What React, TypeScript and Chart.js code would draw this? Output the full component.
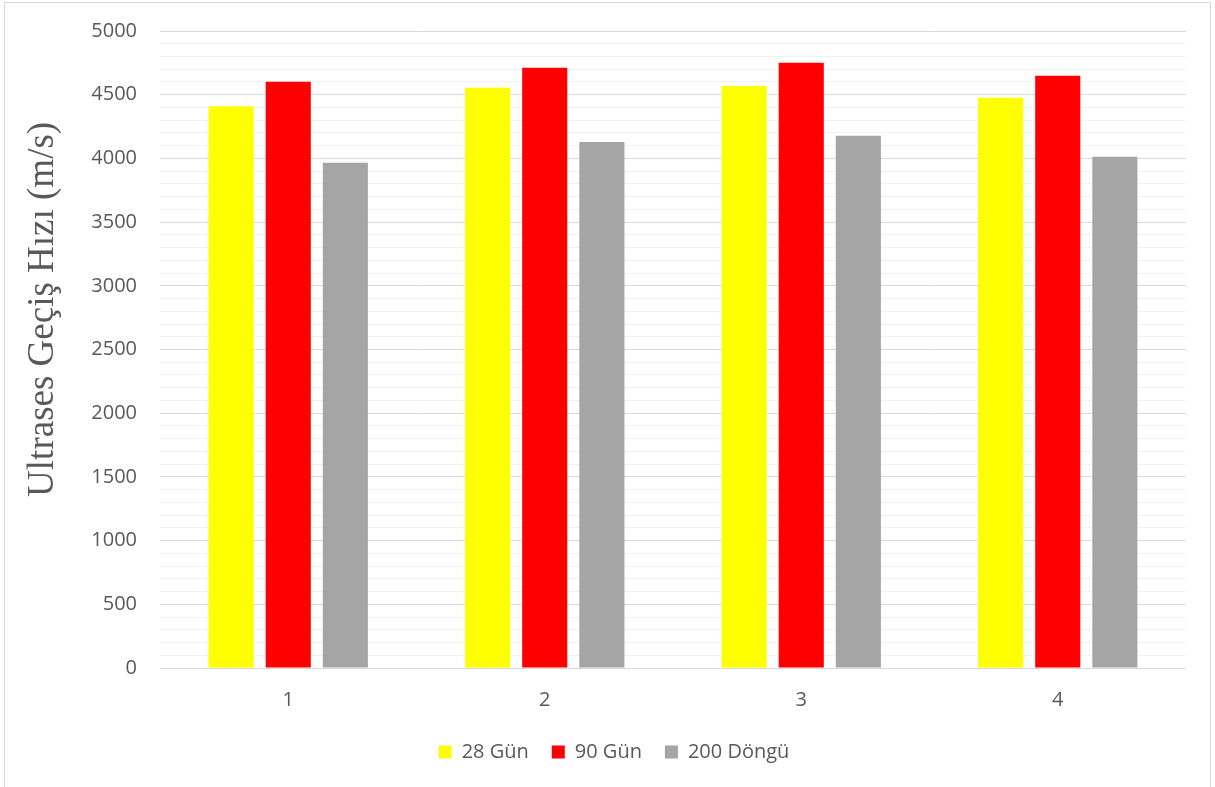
import React, { useEffect, useRef } from "react";
import { Chart, registerables } from "chart.js";

Chart.register(...registerables);

const categories = ["1", "2", "3", "4"];
const gun28 = [4410, 4555, 4568, 4476];
const gun90 = [4602, 4712, 4751, 4649];
const dongu200 = [3965, 4129, 4178, 4013];
const yTitle = "Ultrases Geçiş Hızı (m/s)";

const yTitlePlugin = {
  id: "yTitlePlugin",
  afterDraw(chart: any) {
    const { ctx, chartArea } = chart;
    const cy = chartArea.top + (chartArea.bottom - chartArea.top) * 0.437;
    ctx.save();
    ctx.translate(53, cy);
    ctx.rotate(-Math.PI / 2);
    ctx.font = '37px "Liberation Serif"';
    ctx.fillStyle = "#595959";
    ctx.textAlign = "center";
    ctx.textBaseline = "alphabetic";
    ctx.fillText(yTitle, 0, 0);
    ctx.restore();
  },
};

export default function App() {
  const ref = useRef<HTMLCanvasElement>(null);
  useEffect(() => {
    document.body.style.margin = "0";
    const chart = new Chart(ref.current!, {
      type: "bar",
      data: {
        labels: categories,
        datasets: [
          { label: "28 Gün", data: gun28, backgroundColor: "#FFFF00" },
          { label: "90 Gün", data: gun90, backgroundColor: "#FF0000" },
          { label: "200 Döngü", data: dongu200, backgroundColor: "#A5A5A5" },
        ],
      },
      plugins: [yTitlePlugin],
      options: {
        responsive: false,
        animation: false,
        maintainAspectRatio: false,
        categoryPercentage: 0.668,
        barPercentage: 0.79,
        layout: { padding: { left: 42, right: 29, top: 31, bottom: 15 } },
        plugins: {
          legend: {
            position: "bottom",
            labels: {
              boxWidth: 13,
              boxHeight: 13,
              color: "#595959",
              font: { family: "Open Sans", size: 20 },
              padding: 23,
            },
          },
          tooltip: { enabled: false },
        },
        scales: {
          x: {
            grid: { display: false },
            border: { display: false },
            ticks: {
              color: "#595959",
              font: { family: "Open Sans", size: 20 },
              padding: 12,
            },
            afterFit: (scale: any) => {
              scale.height = 51;
            },
          },
          y: {
            min: 0,
            max: 5000,
            border: { display: false },
            grid: {
              color: (ctx: any) =>
                ctx.tick && ctx.tick.value % 500 === 0 ? "#D9D9D9" : "#F2F2F2",
              lineWidth: 1,
              drawTicks: false,
            },
            ticks: {
              stepSize: 100,
              autoSkip: false,
              color: "#595959",
              font: { family: "Open Sans", size: 20 },
              padding: 23,
              callback: (v: any) => (Number(v) % 500 === 0 ? String(v) : ""),
            },
            afterFit: (scale: any) => {
              scale.width = 118;
              scale.paddingTop = 0;
              scale.paddingBottom = 0;
            },
          },
        },
      },
    });
    return () => chart.destroy();
  }, []);
  return (
    <div style={{ position: "fixed", left: 0, top: 0, width: 1215, height: 787, background: "#fff" }}>
      <div
        style={{
          position: "absolute",
          left: 4,
          top: 2,
          width: 1205,
          height: 800,
          border: "1px solid #D9D9D9",
        }}
      />
      <canvas ref={ref} width={1215} height={787} style={{ position: "absolute", left: 0, top: 0 }} />
    </div>
  );
}
